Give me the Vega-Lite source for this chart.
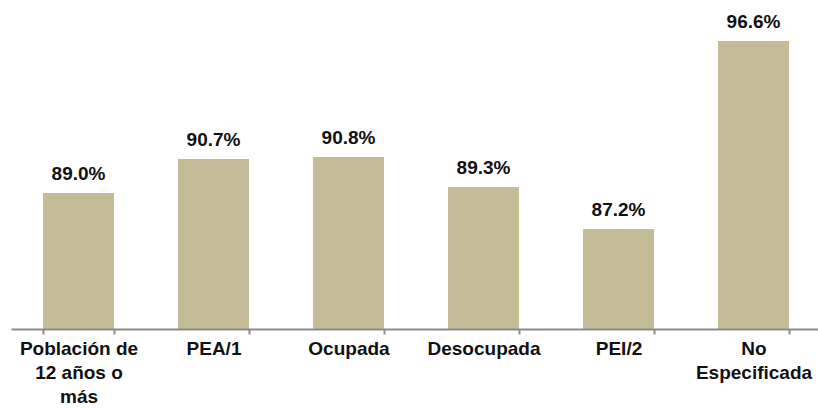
{
  "$schema": "https://vega.github.io/schema/vega-lite/v6.json",
  "width": 810,
  "height": 320,
  "autosize": {"type": "none"},
  "padding": {"left": 11, "top": 9, "right": 0, "bottom": 79},
  "background": "white",
  "config": {"view": {"stroke": null}},
  "data": {
    "values": [
      {"cat": "Población de\n12 años o\nmás", "v": 0.890},
      {"cat": "PEA/1", "v": 0.907},
      {"cat": "Ocupada", "v": 0.908},
      {"cat": "Desocupada", "v": 0.893},
      {"cat": "PEI/2", "v": 0.872},
      {"cat": "No\nEspecificada", "v": 0.966}
    ]
  },
  "encoding": {
    "x": {
      "field": "cat",
      "type": "nominal",
      "sort": null,
      "scale": {"paddingInner": 0.474, "paddingOuter": 0.237},
      "axis": {
        "title": null,
        "labelAngle": 0,
        "labelExpr": "split(datum.label, '\\n')",
        "labelFont": "Liberation Sans",
        "labelFontSize": 19,
        "labelFontWeight": "bold",
        "labelColor": "#111111",
        "labelLineHeight": 24,
        "labelBaseline": "top",
        "labelPadding": 5,
        "labelLimit": 0,
        "labelOverlap": false,
        "labelBound": false,
        "tickBand": "extent",
        "tickSize": 5,
        "tickColor": "#8c8c8c",
        "tickWidth": 2,
        "domainColor": "#8c8c8c",
        "domainWidth": 2,
        "grid": false,
        "zindex": 1
      }
    },
    "y": {
      "field": "v",
      "type": "quantitative",
      "scale": {"domain": [0.822, 0.982], "zero": false, "nice": false},
      "axis": null
    }
  },
  "layer": [
    {"mark": {"type": "bar", "color": "#C4BC96", "clip": true}},
    {
      "mark": {
        "type": "text",
        "font": "Liberation Sans",
        "fontSize": 19,
        "fontWeight": "bold",
        "color": "#111111",
        "baseline": "alphabetic",
        "dy": -13
      },
      "encoding": {"text": {"field": "v", "type": "quantitative", "format": ".1%"}}
    }
  ]
}
